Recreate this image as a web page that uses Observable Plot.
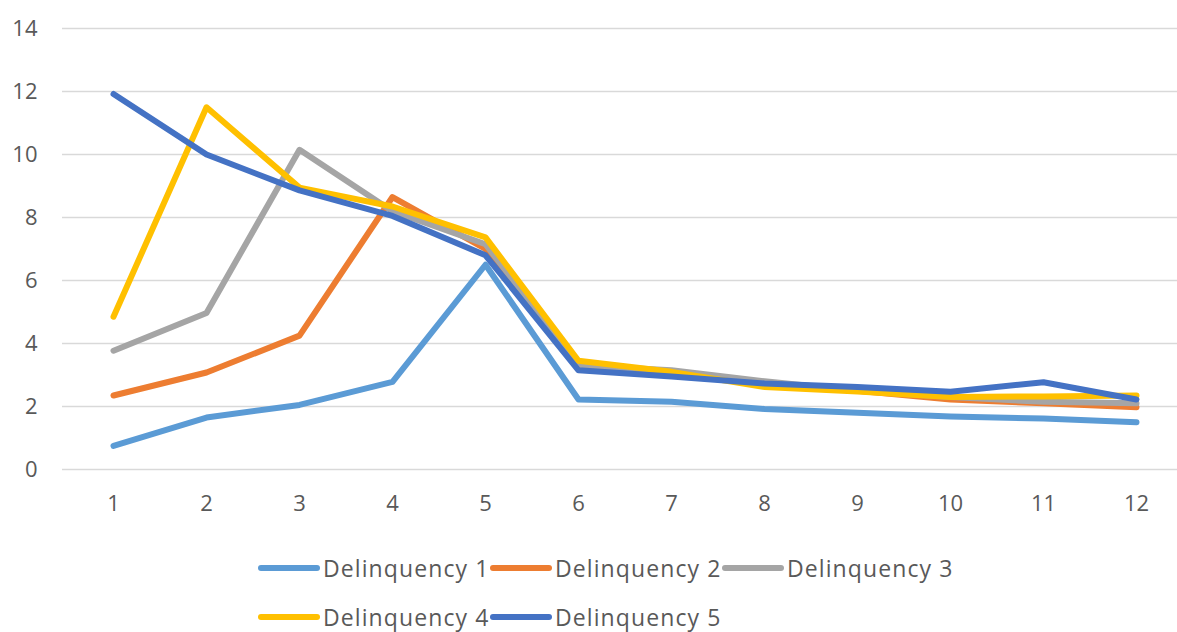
<!DOCTYPE html>
<html>
<head>
<meta charset="utf-8">
<script src="https://cdn.jsdelivr.net/npm/d3@7"></script>
<script src="https://cdn.jsdelivr.net/npm/@observablehq/plot@0.6"></script>
<style>
  html, body { margin: 0; padding: 0; background: #fff; }
  body { width: 1177px; height: 632px; overflow: hidden; font-family: "Open Sans", "Noto Sans", sans-serif; }
  #chart svg { display: block; }
  .legend { position: relative; height: 102px; }
  .legend-row { position: absolute; left: 258px; display: flex; align-items: center; }
  .legend-item { display: flex; align-items: center; width: 232px; }
  .swatch { width: 62px; height: 6px; border-radius: 3px; margin-right: 3px; flex: none; }
  .legend-label { font-size: 23px; color: #595959; white-space: nowrap; letter-spacing: 1.1px; }
</style>
</head>
<body>
<div id="chart"></div>
<div class="legend" id="legend"></div>
<script>
// Months since origination (x axis categories)
const periods = [1, 2, 3, 4, 5, 6, 7, 8, 9, 10, 11, 12];

// Series values, one array per delinquency bucket
const delinquency1 = [0.75, 1.65, 2.05, 2.78, 6.5, 2.22, 2.15, 1.92, 1.8, 1.68, 1.62, 1.5];
const delinquency2 = [2.35, 3.08, 4.25, 8.65, 7.0, 3.3, 3.0, 2.75, 2.5, 2.22, 2.1, 1.98];
const delinquency3 = [3.77, 4.97, 10.15, 8.2, 7.15, 3.3, 3.15, 2.8, 2.5, 2.3, 2.15, 2.1];
const delinquency4 = [4.85, 11.5, 8.95, 8.35, 7.37, 3.45, 3.1, 2.62, 2.48, 2.3, 2.32, 2.35];
const delinquency5 = [11.92, 10.0, 8.86, 8.05, 6.8, 3.15, 2.95, 2.73, 2.62, 2.47, 2.77, 2.22];

const seriesNames = ["Delinquency 1", "Delinquency 2", "Delinquency 3", "Delinquency 4", "Delinquency 5"];
const seriesColors = ["#5B9BD5", "#ED7D31", "#A5A5A5", "#FFC000", "#4472C4"];
const yTicks = [0, 2, 4, 6, 8, 10, 12, 14];

const seriesValues = [delinquency1, delinquency2, delinquency3, delinquency4, delinquency5];
const rows = seriesNames.flatMap((name, i) =>
  periods.map((p, j) => ({series: name, period: p, value: seriesValues[i][j]}))
);

const textColor = "#595959";

const chart = Plot.plot({
  width: 1177,
  height: 542,
  marginLeft: 62,
  marginRight: 0,
  marginTop: 28,
  marginBottom: 73,
  style: {fontFamily: '"Open Sans", "Noto Sans", sans-serif', fontSize: "22px", color: textColor, background: "#fff"},
  x: {type: "point", domain: periods, range: [110, 1139], padding: 0, label: null},
  y: {domain: [0, 14], label: null},
  color: {domain: seriesNames, range: seriesColors},
  marks: [
    Plot.ruleY(yTicks, {stroke: "#d9d9d9", strokeWidth: 1.3}),
    Plot.axisY(yTicks, {tickSize: 0, tickPadding: 0, dx: -25, label: null, fill: textColor, fontSize: 22}),
    Plot.axisX(periods, {tickSize: 0, tickPadding: 26, label: null, fill: textColor, fontSize: 22}),
    Plot.line(rows, {
      x: "period", y: "value", z: "series", stroke: "series",
      strokeWidth: 6, strokeLinejoin: "round", strokeLinecap: "round"
    })
  ]
});
document.getElementById("chart").appendChild(chart);

// Legend: two rows, three items in the first and two in the second
const legend = document.getElementById("legend");
const layout = [[0, 1, 2], [3, 4]];
layout.forEach((idxs, r) => {
  const row = document.createElement("div");
  row.className = "legend-row";
  row.style.top = (r === 0 ? 26 : 75) + "px";
  row.style.transform = "translateY(-50%)";
  idxs.forEach(i => {
    const item = document.createElement("div");
    item.className = "legend-item";
    const sw = document.createElement("div");
    sw.className = "swatch";
    sw.style.background = seriesColors[i];
    const lab = document.createElement("span");
    lab.className = "legend-label";
    lab.textContent = seriesNames[i];
    item.appendChild(sw);
    item.appendChild(lab);
    row.appendChild(item);
  });
  legend.appendChild(row);
});
</script>
</body>
</html>
